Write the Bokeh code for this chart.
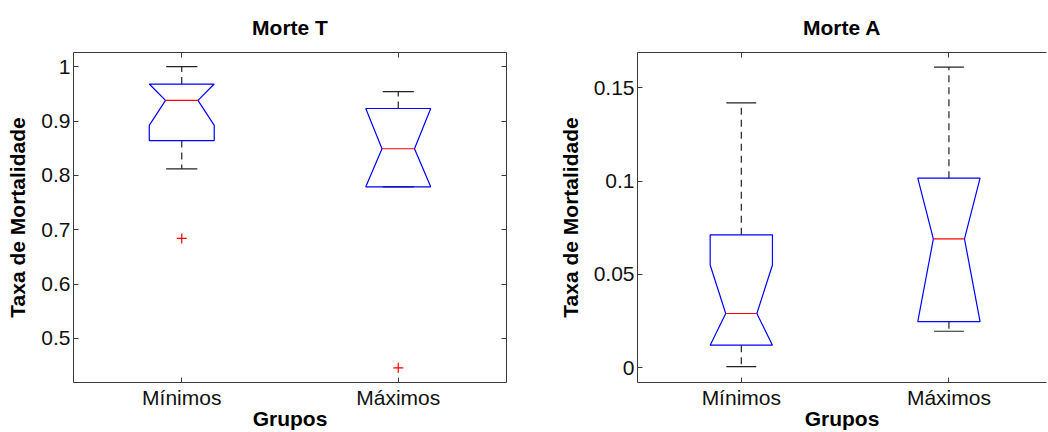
from bokeh.plotting import figure
from bokeh.models import Range1d, LinearAxis, FixedTicker, CustomJSTickFormatter
from bokeh.layouts import row
from bokeh.embed import file_html
from bokeh.resources import INLINE

# ---------------- data ----------------
groups = ["Mínimos", "Máximos"]
positions = [1, 2]

# Morte T
t_whisker_low = [0.812, 0.779]
t_q1 = [0.864, 0.779]
t_median = [0.938, 0.849]
t_q3 = [0.968, 0.923]
t_whisker_high = [1.000, 0.954]
t_notch_low = [0.892, 0.769]
t_notch_high = [0.984, 0.929]
t_outlier_pos = [1, 2]
t_outlier_val = [0.684, 0.446]

# Morte A
a_whisker_low = [0.0005, 0.0195]
a_q1 = [0.012, 0.0246]
a_median = [0.029, 0.069]
a_q3 = [0.0712, 0.1016]
a_whisker_high = [0.142, 0.1612]
a_notch_low = [0.003, 0.021]
a_notch_high = [0.055, 0.117]
a_outlier_pos = []
a_outlier_val = []

t_yticks = [0.5, 0.6, 0.7, 0.8, 0.9, 1.0]
a_yticks = [0, 0.05, 0.1, 0.15]

FONT = "Liberation Sans"
AXIS_COLOR = "#3a3a3a"
BOX_HALF = 0.15
NOTCH_HALF = 0.075
CAP_HALF = 0.072

fmt = CustomJSTickFormatter(code="return String(Number(tick.toFixed(4)));")
blank = CustomJSTickFormatter(code="return '';")


def style_axis(ax, show_labels):
    ax.axis_line_color = AXIS_COLOR
    ax.major_tick_line_color = AXIS_COLOR
    ax.minor_tick_line_color = None
    ax.major_tick_in = 5
    ax.major_tick_out = 0
    if show_labels:
        ax.major_label_text_font = FONT
        ax.major_label_text_font_size = "21px"
        ax.major_label_text_color = "#111111"
        ax.axis_label_text_font = FONT
        ax.axis_label_text_font_size = "21px"
        ax.axis_label_text_font_style = "bold"
        ax.axis_label_text_color = "#000000"
    else:
        ax.formatter = blank
        ax.major_label_text_font_size = "1px"
        ax.major_label_standoff = 0


def panel(title, wl, q1, med, q3, wh, nl, nh, opos, oval, yr, yticks,
          width, bl, br, xend, right_axis):
    p = figure(width=width, height=432, output_backend="svg", toolbar_location=None,
               x_range=Range1d(0.5, xend), y_range=Range1d(*yr),
               min_border_left=bl, min_border_right=br, min_border_top=52,
               min_border_bottom=49, x_axis_location=None, y_axis_location=None)
    p.outline_line_color = None
    p.grid.visible = False
    p.background_fill_color = "white"
    p.border_fill_color = "white"

    p.title.text = title
    p.title.text_font = FONT
    p.title.text_font_size = "21px"
    p.title.text_font_style = "bold"
    p.title.align = "center"
    p.title.text_color = "#000000"
    p.title.vertical_align = "top"
    p.title.standoff = 24

    xticker = FixedTicker(ticks=positions)
    yticker = FixedTicker(ticks=yticks)

    xb = LinearAxis(ticker=xticker, axis_label="Grupos",
                    major_label_overrides={pos: g for pos, g in zip(positions, groups)})
    style_axis(xb, True)
    xb.major_label_standoff = 3
    xb.axis_label_standoff = -5
    p.add_layout(xb, "below")

    yl = LinearAxis(ticker=yticker, formatter=fmt, axis_label="Taxa de Mortalidade")
    style_axis(yl, True)
    yl.major_label_standoff = 3
    yl.axis_label_standoff = 9
    p.add_layout(yl, "left")

    xa = LinearAxis(ticker=xticker)
    style_axis(xa, False)
    p.add_layout(xa, "above")
    if right_axis:
        yr_ax = LinearAxis(ticker=yticker)
        style_axis(yr_ax, False)
        p.add_layout(yr_ax, "right")

    # whiskers (drawn first so boxes sit on top)
    p.segment(x0=positions, y0=q3, x1=positions, y1=wh, line_color="#222222",
              line_dash="7 5", line_width=1.2)
    p.segment(x0=positions, y0=q1, x1=positions, y1=wl, line_color="#222222",
              line_dash="7 5", line_width=1.2)
    p.segment(x0=[x - CAP_HALF for x in positions], y0=wh,
              x1=[x + CAP_HALF for x in positions], y1=wh, line_color="#222222", line_width=1.2)
    p.segment(x0=[x - CAP_HALF for x in positions], y0=wl,
              x1=[x + CAP_HALF for x in positions], y1=wl, line_color="#222222", line_width=1.2)

    # boxes (notched, notch clipped to box)
    xs, ys = [], []
    for x, a, b, m, c, d in zip(positions, q1, nl, med, nh, q3):
        lo = max(b, a)
        hi = min(c, d)
        xs.append([x - BOX_HALF, x - BOX_HALF, x - NOTCH_HALF, x - BOX_HALF, x - BOX_HALF,
                   x + BOX_HALF, x + BOX_HALF, x + NOTCH_HALF, x + BOX_HALF, x + BOX_HALF])
        ys.append([a, lo, m, hi, d, d, hi, m, lo, a])
    p.patches(xs, ys, fill_color=None, line_color="#0000ff", line_width=1.2)

    # medians
    p.segment(x0=[x - NOTCH_HALF for x in positions], y0=med,
              x1=[x + NOTCH_HALF for x in positions], y1=med, line_color="#ff0000", line_width=1.2)

    if opos:
        p.scatter(opos, oval, marker="cross", size=10, line_color="#ff0000", line_width=1.2)
    return p


p1 = panel("Morte T", t_whisker_low, t_q1, t_median, t_q3, t_whisker_high,
           t_notch_low, t_notch_high, t_outlier_pos, t_outlier_val,
           (0.419, 1.026), t_yticks, 520, 73, 14, 2.5, True)
p2 = panel("Morte A", a_whisker_low, a_q1, a_median, a_q3, a_whisker_high,
           a_notch_low, a_notch_high, a_outlier_pos, a_outlier_val,
           (-0.008, 0.169), a_yticks, 528, 117, 2, 2.47, False)

layout = row(p1, p2, spacing=0)
open("out.html", "w").write(file_html(layout, INLINE))
